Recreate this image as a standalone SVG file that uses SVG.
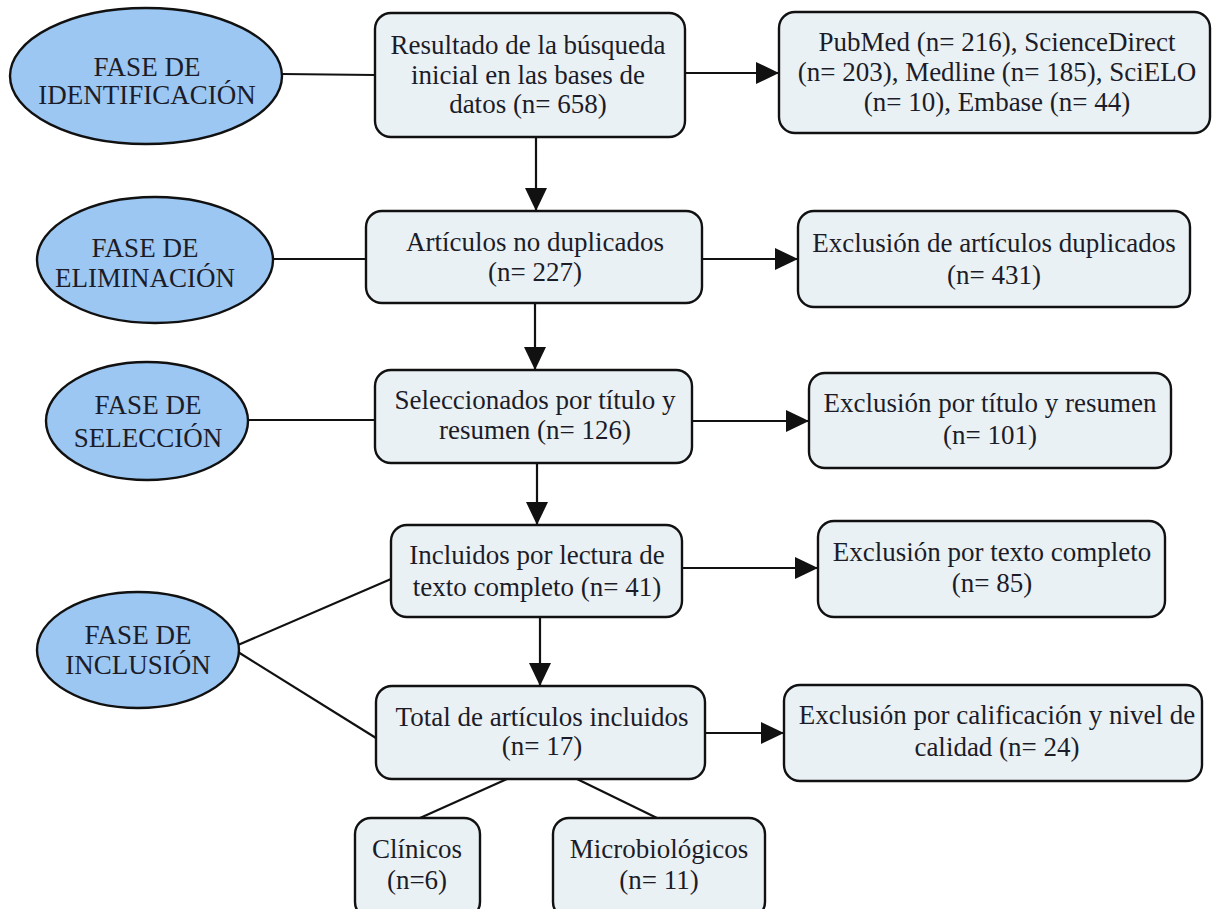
<svg xmlns="http://www.w3.org/2000/svg" width="1212" height="909" viewBox="0 0 1212 909">
<style>
.box{fill:#eaf1f5;stroke:#111;stroke-width:2.4}
.ell{fill:#9cc7f3;stroke:#111;stroke-width:2.4}
.t{font-family:"Liberation Serif","Times New Roman",serif;font-size:27px;fill:#1c1c28;text-anchor:middle}
.c{stroke:#111;stroke-width:2.2;fill:none}
</style>
<defs>
<marker id="a" viewBox="0 0 23 22" refX="23" refY="11" markerWidth="23" markerHeight="22" markerUnits="userSpaceOnUse" orient="auto">
<path d="M0,0 L23,11 L0,22 Z" fill="#111"/>
</marker>
</defs>
<rect width="1212" height="909" fill="#fff"/>
<g id="connectors">
<line class="c" x1="282" y1="74" x2="375" y2="75"/>
<line class="c" x1="273" y1="259" x2="366" y2="259"/>
<line class="c" x1="248" y1="420" x2="375" y2="420"/>
<line class="c" x1="238" y1="645" x2="391" y2="579"/>
<line class="c" x1="238" y1="652" x2="376" y2="738"/>
<line class="c" x1="685" y1="73" x2="779" y2="73" marker-end="url(#a)"/>
<line class="c" x1="702" y1="259" x2="798" y2="259" marker-end="url(#a)"/>
<line class="c" x1="692" y1="421" x2="809" y2="421" marker-end="url(#a)"/>
<line class="c" x1="682" y1="568" x2="818" y2="568" marker-end="url(#a)"/>
<line class="c" x1="705" y1="733" x2="784" y2="733" marker-end="url(#a)"/>
<line class="c" x1="536" y1="137" x2="536" y2="211" marker-end="url(#a)"/>
<line class="c" x1="535" y1="303" x2="535" y2="370" marker-end="url(#a)"/>
<line class="c" x1="537" y1="463" x2="537" y2="525" marker-end="url(#a)"/>
<line class="c" x1="540" y1="617" x2="540" y2="686" marker-end="url(#a)"/>
<line class="c" x1="507" y1="779" x2="420" y2="818"/>
<line class="c" x1="577" y1="779" x2="657" y2="818"/>
</g>
<g id="fase-identificacion">
<ellipse class="ell" cx="146" cy="76" rx="136" ry="68"/>
<text class="t" x="147" y="76">FASE DE</text>
<text class="t" x="147" y="104">IDENTIFICACIÓN</text>
</g>
<g id="fase-eliminacion">
<ellipse class="ell" cx="155" cy="260" rx="118" ry="63"/>
<text class="t" x="145" y="257">FASE DE</text>
<text class="t" x="145" y="287">ELIMINACIÓN</text>
</g>
<g id="fase-seleccion">
<ellipse class="ell" cx="147" cy="421" rx="101" ry="59"/>
<text class="t" x="148" y="414">FASE DE</text>
<text class="t" x="148" y="447">SELECCIÓN</text>
</g>
<g id="fase-inclusion">
<ellipse class="ell" cx="138" cy="650" rx="101" ry="58"/>
<text class="t" x="138" y="644">FASE DE</text>
<text class="t" x="138" y="674">INCLUSIÓN</text>
</g>
<g id="resultado">
<rect class="box" x="375" y="13" width="310" height="124" rx="16"/>
<text class="t" x="528" y="54">Resultado de la búsqueda</text>
<text class="t" x="528" y="84">inicial en las bases de</text>
<text class="t" x="528" y="113">datos (n= 658)</text>
</g>
<g id="bases">
<rect class="box" x="779" y="12" width="431" height="121" rx="16"/>
<text class="t" x="997" y="51">PubMed (n= 216), ScienceDirect</text>
<text class="t" x="997" y="81">(n= 203), Medline (n= 185), SciELO</text>
<text class="t" x="997" y="111">(n= 10), Embase (n= 44)</text>
</g>
<g id="no-duplicados">
<rect class="box" x="366" y="211" width="336" height="92" rx="16"/>
<text class="t" x="535" y="251">Artículos no duplicados</text>
<text class="t" x="535" y="281">(n= 227)</text>
</g>
<g id="exclusion-duplicados">
<rect class="box" x="798" y="211" width="392" height="96" rx="16"/>
<text class="t" x="994" y="252">Exclusión de artículos duplicados</text>
<text class="t" x="994" y="284">(n= 431)</text>
</g>
<g id="seleccionados">
<rect class="box" x="375" y="370" width="317" height="93" rx="16"/>
<text class="t" x="535" y="409">Seleccionados por título y</text>
<text class="t" x="535" y="439">resumen (n= 126)</text>
</g>
<g id="exclusion-titulo">
<rect class="box" x="809" y="373" width="362" height="95" rx="16"/>
<text class="t" x="990" y="412">Exclusión por título y resumen</text>
<text class="t" x="990" y="444">(n= 101)</text>
</g>
<g id="incluidos-lectura">
<rect class="box" x="391" y="525" width="291" height="92" rx="16"/>
<text class="t" x="537" y="564">Incluidos por lectura de</text>
<text class="t" x="537" y="596">texto completo (n= 41)</text>
</g>
<g id="exclusion-texto">
<rect class="box" x="818" y="521" width="347" height="96" rx="16"/>
<text class="t" x="992" y="561">Exclusión por texto completo</text>
<text class="t" x="992" y="592">(n= 85)</text>
</g>
<g id="total">
<rect class="box" x="376" y="686" width="329" height="93" rx="16"/>
<text class="t" x="542" y="726">Total de artículos incluidos</text>
<text class="t" x="542" y="755">(n= 17)</text>
</g>
<g id="exclusion-calificacion">
<rect class="box" x="784" y="685" width="418" height="96" rx="16"/>
<text class="t" x="997" y="724">Exclusión por calificación y nivel de</text>
<text class="t" x="997" y="756">calidad (n= 24)</text>
</g>
<g id="clinicos">
<rect class="box" x="355" y="818" width="125" height="100" rx="16"/>
<text class="t" x="417" y="858">Clínicos</text>
<text class="t" x="417" y="889">(n=6)</text>
</g>
<g id="microbiologicos">
<rect class="box" x="553" y="818" width="212" height="100" rx="16"/>
<text class="t" x="659" y="858">Microbiológicos</text>
<text class="t" x="659" y="889">(n= 11)</text>
</g>
</svg>
